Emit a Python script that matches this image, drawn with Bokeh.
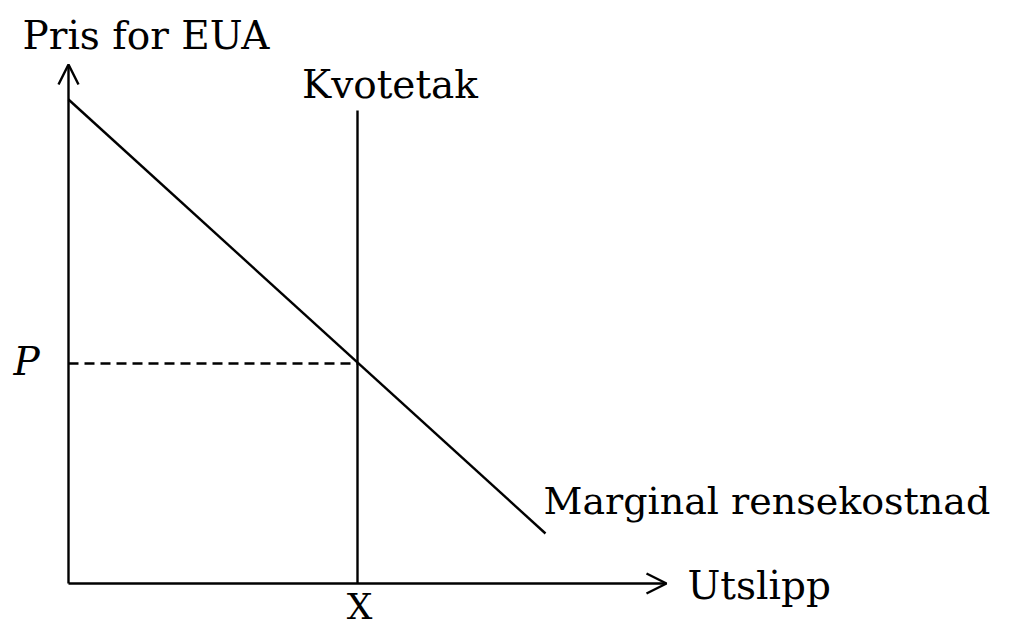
from bokeh.plotting import figure
from bokeh.models import Range1d, Arrow, OpenHead
from bokeh.core.properties import value
from bokeh.embed import file_html
from bokeh.resources import INLINE

# Schematic values (1 unit = 10 px on the reference)
y_axis_top = 51.9          # price axis length
x_axis_end = 59.8          # emissions axis length
mac_q = [0.0, 47.7]        # marginal abatement cost line, quantities
mac_p = [48.4, 5.0]        # marginal abatement cost line, prices
cap_q = 28.9               # emissions cap (X)
cap_top = 47.3
price_p = 22.0             # equilibrium price P

labels = ["Pris for EUA", "Kvotetak", "Marginal rensekostnad", "Utslipp", "X", "P"]

FONT = value("DejaVu Serif")
LW = 2.4

p = figure(width=1000, height=628, output_backend="svg", toolbar_location=None,
           x_range=Range1d(-6.8, 93.2), y_range=Range1d(-4.5, 58.3),
           min_border=0)
p.axis.visible = False
p.grid.visible = False
p.outline_line_color = None
p.background_fill_color = "white"
p.border_fill_color = "white"

# Axes with open arrowheads
p.add_layout(Arrow(end=OpenHead(size=20, line_width=LW, line_color="black"),
                   x_start=0, y_start=0, x_end=0, y_end=y_axis_top,
                   line_width=LW, line_color="black"))
p.add_layout(Arrow(end=OpenHead(size=20, line_width=LW, line_color="black"),
                   x_start=0, y_start=0, x_end=x_axis_end, y_end=0,
                   line_width=LW, line_color="black"))

# Marginal abatement cost line
p.line(mac_q, mac_p, line_width=LW, line_color="black")

# Cap (vertical line)
p.line([cap_q, cap_q], [0, cap_top], line_width=LW, line_color="black")

# Dashed price line
p.line([0, cap_q], [price_p, price_p], line_width=LW, line_color="black", line_dash="10 6")

def label(x, y, t, size="39px", align="left", style="normal"):
    p.text(x=[x], y=[y], text=[t], text_font=FONT, text_font_size=size,
           text_font_style=style, text_align=align, text_baseline="middle",
           text_color="black")

label(-4.6, 54.8, labels[0])
label(32.15, 49.9, labels[1], align="center")
label(47.5, 8.3, labels[2], size="38px")
label(61.9, -0.2, labels[3])
label(cap_q + 0.2, -2.3, labels[4], size="36px", align="center")
label(-4.2, price_p + 0.2, labels[5], align="center", style="italic")

open("out.html", "w").write(file_html(p, INLINE))
